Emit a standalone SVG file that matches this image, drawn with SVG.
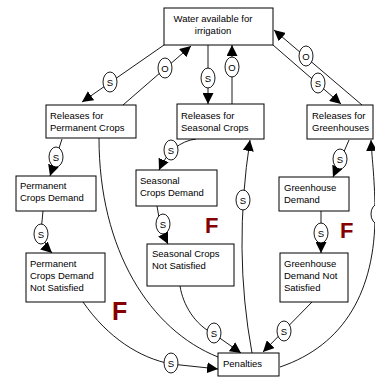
<svg xmlns="http://www.w3.org/2000/svg" width="375" height="377" viewBox="0 0 375 377">
<style>
.box{fill:#fff;stroke:#000;stroke-width:1}
.t{font-family:"Liberation Sans",Arial,sans-serif;font-size:9.5px;fill:#000}
.c{fill:none;stroke:#000;stroke-width:0.9}
.a{marker-end:url(#ah)}
.lab ellipse{fill:#fff;stroke:#000;stroke-width:0.9}
.lab text{font-family:"Liberation Sans",Arial,sans-serif;font-size:9.5px;text-anchor:middle;fill:#000}
.f{font-family:"Liberation Sans",Arial,sans-serif;font-weight:bold;fill:#850000}
</style>
<defs>
<marker id="ah" markerWidth="11" markerHeight="11" refX="11" refY="5.5" orient="auto" markerUnits="userSpaceOnUse"><path d="M0,0 L11,5.5 L0,11 z" fill="#000"/></marker>
</defs>
<rect width="375" height="377" fill="#fff"/>
<g id="connectors">
<path class="c a" d="M164,45 L82,102"/>
<path class="c a" d="M123,105 L191,46"/>
<path class="c a" d="M208,45 L208,104"/>
<path class="c a" d="M232,104 L232,45"/>
<path class="c a" d="M362,105 L274,30"/>
<path class="c a" d="M273,45 L341,104"/>
<path class="c a" d="M62,139 L50,176"/>
<path class="c a" d="M196,139 Q172,142 159,170"/>
<path class="c a" d="M349,140 L333,177"/>
<path class="c a" d="M43,211 Q38,240 52,253"/>
<path class="c a" d="M157,206 Q160,228 168,244"/>
<path class="c a" d="M321,211 L321,253"/>
<path class="c a" d="M83,302 C108,338 140,358 171,364 L218,369"/>
<path class="c" d="M99,138 C99,250 150,330 218,357"/>
<path class="c a" d="M180,286 C183,305 195,325 214,334 L241,353"/>
<path class="c a" d="M252,353 Q233,250 250,140"/>
<path class="c a" d="M312,302 L263,352"/>
<path class="c a" d="M280,367 C345,345 375,290 375,215 C375,180 372,160 371,140"/>
<g class="lab"><ellipse cx="110" cy="82" rx="7" ry="10"/><text x="110" y="85.5">S</text></g>
<g class="lab"><ellipse cx="165" cy="68" rx="7" ry="10"/><text x="165" y="71.5">O</text></g>
<g class="lab"><ellipse cx="208" cy="78" rx="7" ry="10"/><text x="208" y="81.5">S</text></g>
<g class="lab"><ellipse cx="232" cy="67" rx="7" ry="10"/><text x="232" y="70.5">O</text></g>
<g class="lab"><ellipse cx="306" cy="56" rx="7" ry="10"/><text x="306" y="59.5">O</text></g>
<g class="lab"><ellipse cx="318" cy="83" rx="7" ry="10"/><text x="318" y="86.5">S</text></g>
<g class="lab"><ellipse cx="56" cy="157" rx="7" ry="10"/><text x="56" y="160.5">S</text></g>
<g class="lab"><ellipse cx="171" cy="150" rx="7" ry="10"/><text x="171" y="153.5">S</text></g>
<g class="lab"><ellipse cx="340" cy="159" rx="7" ry="10"/><text x="340" y="162.5">S</text></g>
<g class="lab"><ellipse cx="41" cy="234" rx="7" ry="10"/><text x="41" y="237.5">S</text></g>
<g class="lab"><ellipse cx="163" cy="224" rx="7" ry="10"/><text x="163" y="227.5">S</text></g>
<g class="lab"><ellipse cx="321" cy="233" rx="7" ry="10"/><text x="321" y="236.5">S</text></g>
<g class="lab"><ellipse cx="171" cy="363" rx="7" ry="10"/><text x="171" y="366.5">S</text></g>
<g class="lab"><ellipse cx="214" cy="333" rx="7" ry="10"/><text x="214" y="336.5">S</text></g>
<g class="lab"><ellipse cx="243" cy="200" rx="7" ry="10"/><text x="243" y="203.5">S</text></g>
<g class="lab"><ellipse cx="284" cy="331" rx="7" ry="10"/><text x="284" y="334.5">S</text></g>
<g class="lab"><ellipse cx="378" cy="214" rx="7" ry="10"/></g>
</g>
<g id="water">
<rect class="box" x="164" y="8" width="109" height="37"/>
<text class="t" x="213" y="22" text-anchor="middle">Water available for</text>
<text class="t" x="213" y="34" text-anchor="middle">irrigation</text>
</g>
<g id="relPerm">
<rect class="box" x="46" y="105" width="90" height="33"/>
<text class="t" x="50" y="118.5">Releases for</text>
<text class="t" x="50" y="130.5">Permanent Crops</text>
</g>
<g id="relSeas">
<rect class="box" x="177" y="104" width="87" height="35"/>
<text class="t" x="181" y="118.5">Releases for</text>
<text class="t" x="181" y="130.5">Seasonal Crops</text>
</g>
<g id="relGH">
<rect class="box" x="307" y="105" width="66" height="34"/>
<text class="t" x="312" y="118.5">Releases for</text>
<text class="t" x="312" y="130.5">Greenhouses</text>
</g>
<g id="permDemand">
<rect class="box" x="16" y="176" width="80" height="35"/>
<text class="t" x="20" y="189">Permanent</text>
<text class="t" x="20" y="201">Crops Demand</text>
</g>
<g id="seasDemand">
<rect class="box" x="136" y="170" width="81" height="36"/>
<text class="t" x="140" y="183.5">Seasonal</text>
<text class="t" x="140" y="195.5">Crops Demand</text>
</g>
<g id="ghDemand">
<rect class="box" x="279" y="177" width="70" height="34"/>
<text class="t" x="284" y="190.5">Greenhouse</text>
<text class="t" x="284" y="202.5">Demand</text>
</g>
<g id="permNS">
<rect class="box" x="26" y="253" width="79" height="49"/>
<text class="t" x="30" y="266.5">Permanent</text>
<text class="t" x="30" y="279">Crops Demand</text>
<text class="t" x="30" y="291">Not Satisfied</text>
</g>
<g id="seasNS">
<rect class="box" x="147" y="244" width="87" height="42"/>
<text class="t" x="152" y="257">Seasonal Crops</text>
<text class="t" x="152" y="269">Not Satisfied</text>
</g>
<g id="ghNS">
<rect class="box" x="280" y="253" width="68" height="49"/>
<text class="t" x="284" y="266.5">Greenhouse</text>
<text class="t" x="284" y="279">Demand Not</text>
<text class="t" x="284" y="291">Satisfied</text>
</g>
<g id="penalties">
<rect class="box" x="218" y="353" width="61" height="23"/>
<text class="t" x="223" y="367">Penalties</text>
</g>
<text class="f" x="112" y="320" font-size="25">F</text>
<text class="f" x="205" y="233" font-size="22">F</text>
<text class="f" x="340" y="238" font-size="22">F</text>
</svg>
